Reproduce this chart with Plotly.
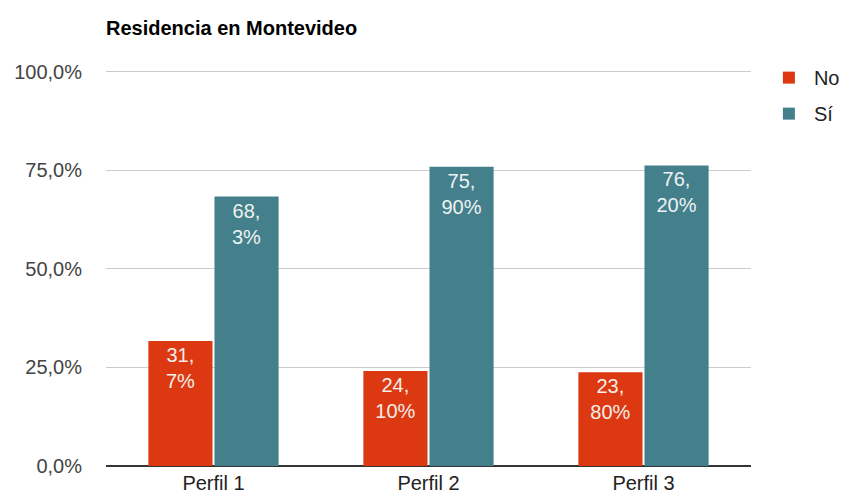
import plotly.graph_objects as go

categories = ["Perfil 1", "Perfil 2", "Perfil 3"]
no_values = [31.7, 24.1, 23.8]
si_values = [68.3, 75.9, 76.2]
no_labels = ["31,<br>7%", "24,<br>10%", "23,<br>80%"]
si_labels = ["68,<br>3%", "75,<br>90%", "76,<br>20%"]
y_ticks = [0, 25, 50, 75, 100]
y_tick_labels = ["0,0%", "25,0%", "50,0%", "75,0%", "100,0%"]

font_family = "Liberation Sans, Arial, sans-serif"

# The page body has an 8px default margin, so the figure is sized to fit the window.
W, H = 845, 491

fig = go.Figure()
fig.add_trace(go.Bar(
    name="No", x=categories, y=no_values, text=no_labels, legendgroup="no",
    marker=dict(color="#dc3912", line=dict(width=0)),
    textposition="inside", insidetextanchor="end",
    textfont=dict(color="#f4eee8", size=20, family=font_family),
    hoverinfo="skip",
))
fig.add_trace(go.Bar(
    name="Sí", x=categories, y=si_values, text=si_labels, legendgroup="si",
    marker=dict(color="#44808c", line=dict(width=0)),
    textposition="inside", insidetextanchor="end",
    textfont=dict(color="#eef2f2", size=20, family=font_family),
    hoverinfo="skip",
))

fig.update_layout(
    width=W, height=H,
    margin=dict(l=98, r=102, t=62, b=33, autoexpand=False),
    paper_bgcolor="white", plot_bgcolor="white",
    barmode="group", bargap=0.385, bargroupgap=0.03,
    uniformtext=dict(mode="show", minsize=10),
    title=dict(text="<b>Residencia en Montevideo</b>", x=98 / W, xanchor="left",
               y=1 - 20 / H, yanchor="middle",
               font=dict(family=font_family, size=20, color="#000")),
    font=dict(family=font_family, size=20, color="#444"),
    legend=dict(x=1.02, y=1.03, xanchor="left", yanchor="top",
                font=dict(size=20, color="#222"), tracegroupgap=7,
                itemwidth=40),
    xaxis=dict(showgrid=False, showline=False, ticks="", automargin=False,
               ticklabelstandoff=3,
               tickfont=dict(size=20, color="#222")),
    yaxis=dict(range=[0, 100.4], tickvals=y_ticks, ticktext=y_tick_labels,
               showgrid=True, gridcolor="#cccccc", gridwidth=1,
               zeroline=True, zerolinecolor="#333333", zerolinewidth=1.5,
               ticks="", ticklabelstandoff=23, automargin=False,
               tickfont=dict(size=20, color="#444")),
)

fig.write_html("out.html")
